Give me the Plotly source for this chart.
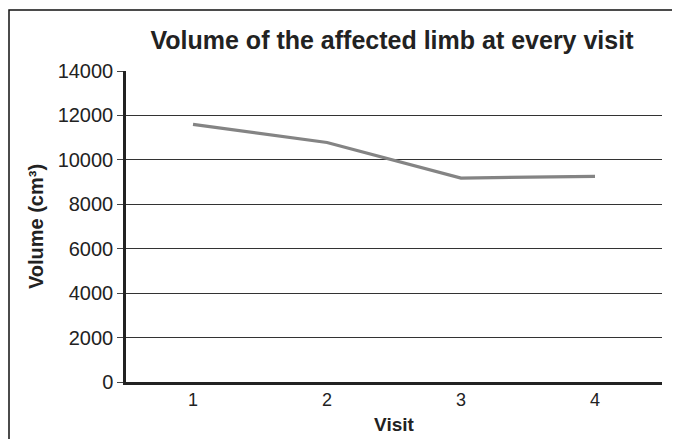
import plotly.graph_objects as go

visits = ["1", "2", "3", "4"]
volume = [11600, 10780, 9180, 9260]
y_ticks = [0, 2000, 4000, 6000, 8000, 10000, 12000, 14000]
y_tick_labels = [str(v) for v in y_ticks]

W, H = 680, 439
# the page is shown with an 8px body offset, so the figure origin is at (8, 8) on screen
ml, mr, mt, mb = 118, 26, 63, 65
pw, ph = W - ml - mr, H - mt - mb

def px(x):  # figure pixel x -> paper
    return (x - ml) / pw

def py(y):  # figure pixel y -> paper
    return (H - mb - y) / ph

fig = go.Figure()
fig.add_trace(go.Scatter(
    x=visits, y=volume, mode="lines",
    line=dict(color="#848484", width=3.2),
    showlegend=False, hoverinfo="skip",
))

font = "Liberation Sans, Arial, sans-serif"
fig.update_layout(
    width=W, height=H,
    margin=dict(l=ml, r=mr, t=mt, b=mb),
    paper_bgcolor="white", plot_bgcolor="white",
    font=dict(family=font, color="#222", size=18),
    title=dict(text="<b>Volume of the affected limb at every visit</b>",
               x=384 / W, xanchor="center", y=1 - 32 / H, yanchor="middle",
               font=dict(size=25, color="#222", family=font)),
    xaxis=dict(
        type="category", range=[-0.5, 3.5],
        showline=True, linecolor="#222", linewidth=2.5,
        showgrid=False, ticks="", tickfont=dict(size=18),
        title=dict(text="<b>Visit</b>", font=dict(size=19), standoff=9),
        zeroline=False,
    ),
    yaxis=dict(
        range=[0, 14000], tickvals=y_ticks, ticktext=y_tick_labels,
        showline=True, linecolor="#222", linewidth=2.5,
        showgrid=True, gridcolor="#333", gridwidth=1,
        ticks="outside", ticklen=6, tickcolor="#444",
        tickfont=dict(size=20),
        title=dict(text="<b>Volume (cm³)</b>", font=dict(size=20), standoff=9),
        zeroline=False,
    ),
    shapes=[dict(type="rect", xref="paper", yref="paper",
                 x0=px(1), x1=px(720), y0=py(480), y1=py(2),
                 line=dict(color="#111", width=1.5), layer="above")],
)

fig.write_html("out.html")
